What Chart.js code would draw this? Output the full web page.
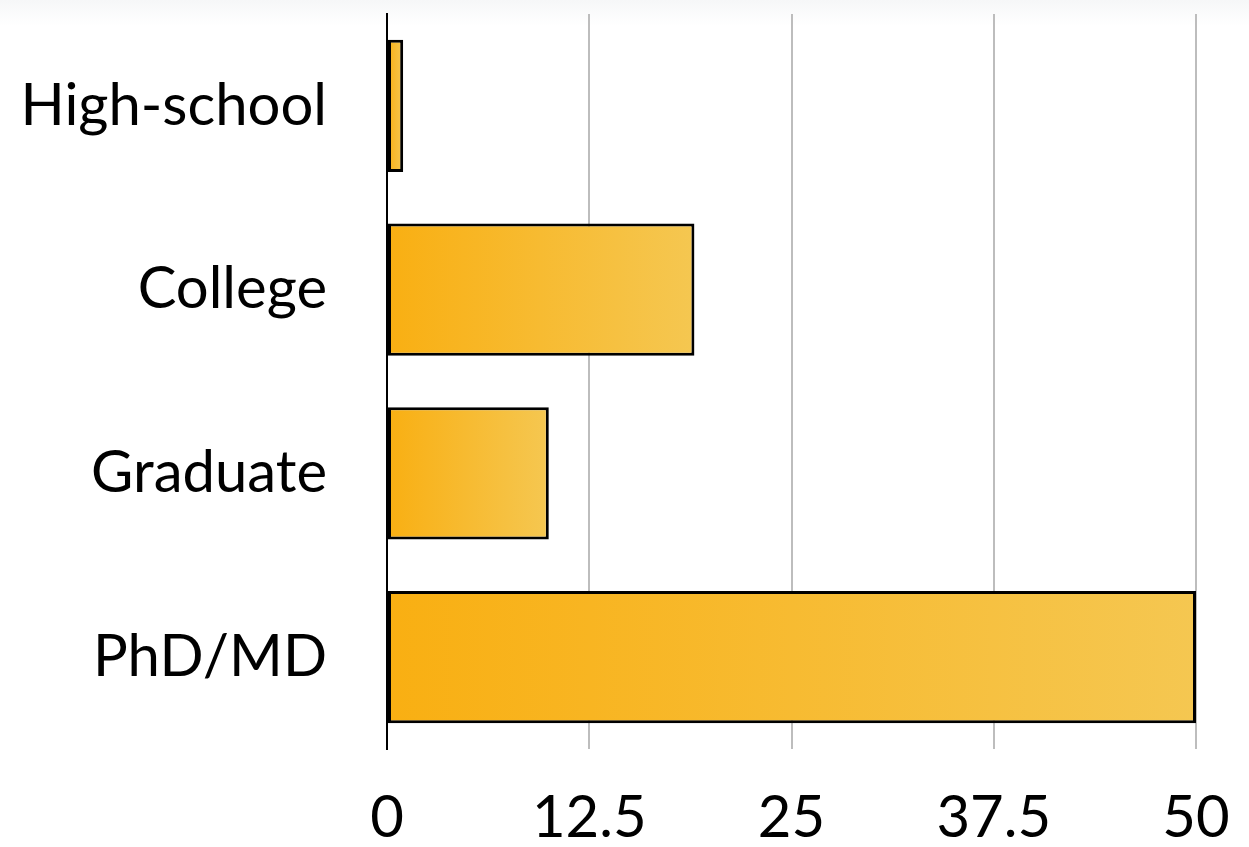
<!DOCTYPE html>
<html>
<head>
<meta charset="utf-8">
<script src="https://cdn.jsdelivr.net/npm/chart.js@4"></script>
<style>
  html, body { margin: 0; padding: 0; }
  body {
    width: 1249px;
    height: 847px;
    background: linear-gradient(to bottom, #f6f7f8 0px, #ffffff 26px);
  }
  #wrap { position: relative; width: 1249px; height: 847px; }
</style>
</head>
<body>
<div id="wrap"><canvas id="chart"></canvas></div>
<script>
// Chart data
const categories = ['High-school', 'College', 'Graduate', 'PhD/MD'];
const values = [1, 19, 10, 50];
const xTicks = [0, 12.5, 25, 37.5, 50];

const fontFamily = 'Lato, "Open Sans", sans-serif';

// Each bar gets its own left-to-right gradient
function barGradient(context) {
  const chart = context.chart;
  const { ctx, chartArea, scales } = chart;
  if (!chartArea) return '#F8B219';
  const v = context.raw;
  const x0 = scales.x.getPixelForValue(0);
  const x1 = scales.x.getPixelForValue(v);
  if (x1 - x0 < 1) return '#F8B219';
  const g = ctx.createLinearGradient(x0, 0, x1, 0);
  g.addColorStop(0, '#F9AF12');
  g.addColorStop(1, '#F5C751');
  return g;
}

// Keep the plot area where the reference has it
function noPadding(scale) {
  scale.paddingTop = 0;
  scale.paddingBottom = 0;
  scale.paddingLeft = 0;
  scale.paddingRight = 0;
}

new Chart(document.getElementById('chart'), {
  type: 'bar',
  data: {
    labels: categories,
    datasets: [
      {
        data: values,
        backgroundColor: barGradient,
        borderColor: '#000000',
        borderWidth: 3,
        borderSkipped: false,
        categoryPercentage: 0.72,
        barPercentage: 1.0,
      },
    ],
  },
  options: {
    indexAxis: 'y',
    responsive: true,
    maintainAspectRatio: false,
    animation: false,
    layout: {
      padding: { top: 14, right: 53, left: 0, bottom: 0 },
    },
    plugins: {
      legend: { display: false },
      tooltip: { enabled: false },
    },
    scales: {
      x: {
        min: 0,
        max: 50,
        afterBuildTicks: (scale) => {
          scale.ticks = xTicks.map((v) => ({ value: v }));
        },
        afterFit: (scale) => {
          scale.height = 98;
          noPadding(scale);
        },
        grid: {
          color: '#BDBDBD',
          lineWidth: 2,
          drawTicks: false,
        },
        border: { display: false },
        ticks: {
          color: '#000000',
          padding: 34,
          font: { family: fontFamily, size: 58 },
          maxRotation: 0,
        },
      },
      y: {
        afterFit: (scale) => {
          scale.width = 387;
          noPadding(scale);
        },
        grid: { display: false, drawTicks: false },
        border: { display: true, color: '#000000', width: 2 },
        ticks: {
          color: '#000000',
          padding: 60,
          font: { family: fontFamily, size: 58 },
        },
      },
    },
  },
});
</script>
</body>
</html>
